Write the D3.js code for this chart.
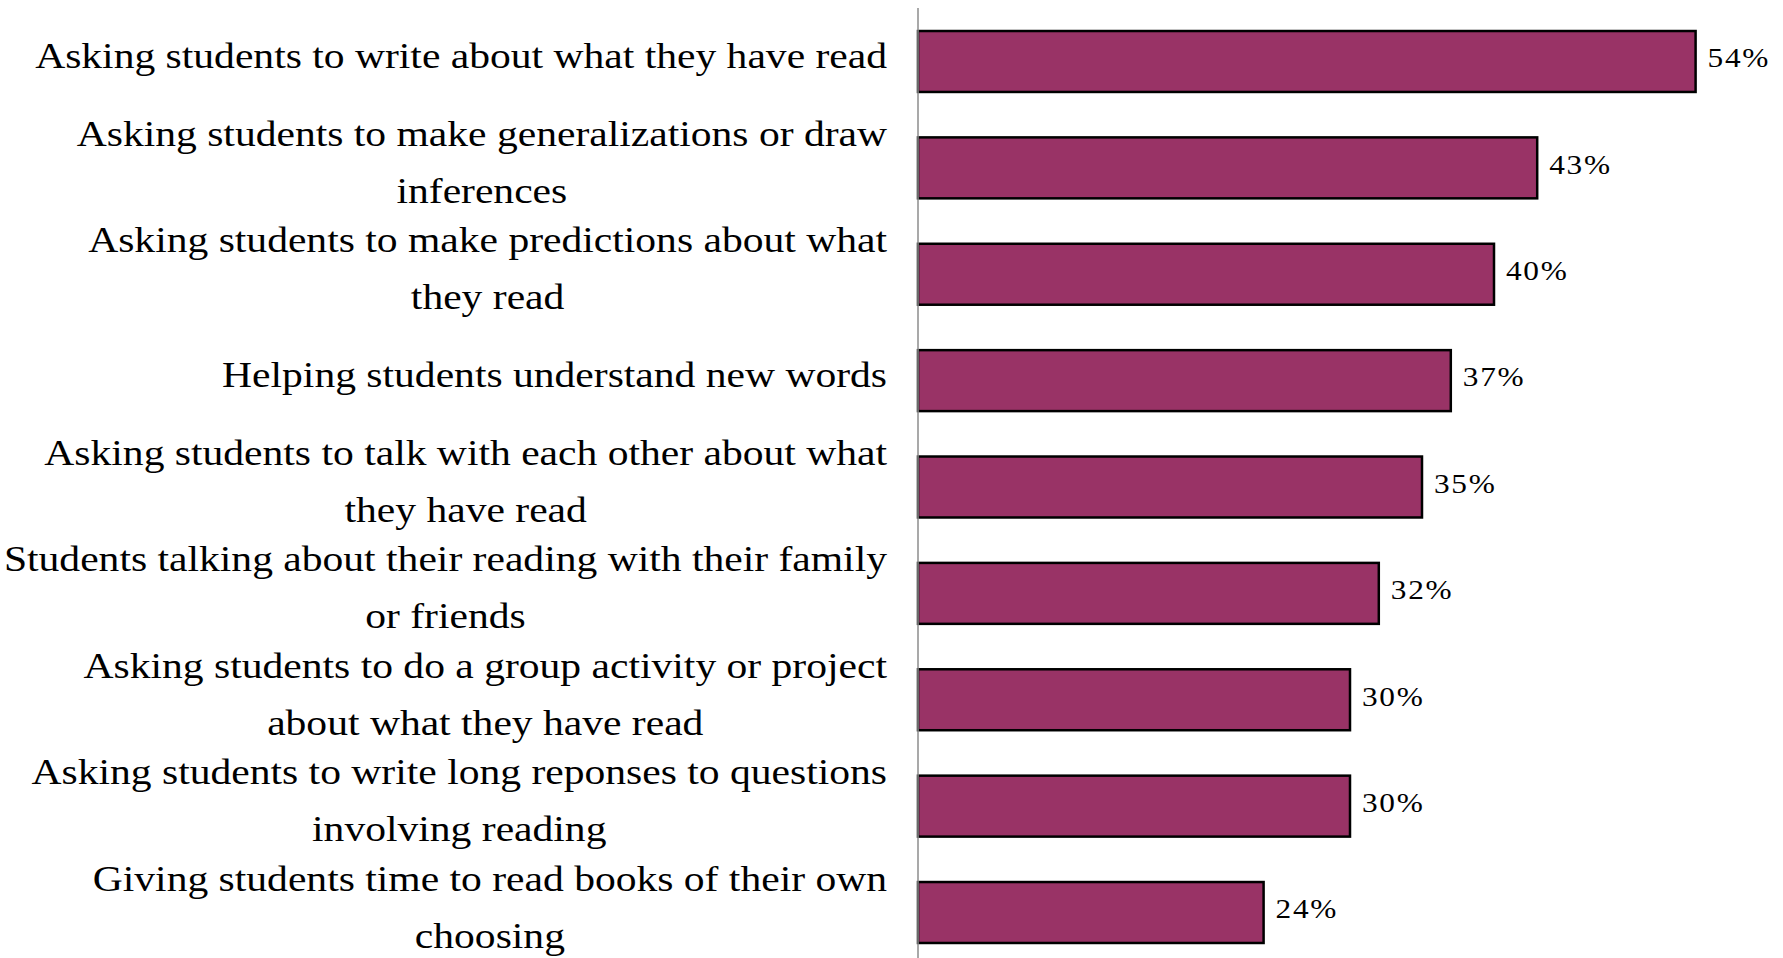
<!DOCTYPE html>
<html>
<head>
<meta charset="utf-8">
<script src="https://cdn.jsdelivr.net/npm/d3@7"></script>
<style>
  html, body { margin: 0; padding: 0; background: #fff; }
  svg { display: block; }
</style>
</head>
<body>
<svg id="chart" width="1783" height="958"></svg>
<script>
// Category labels; "|" marks where a label wraps onto a second line
const categories = [
  "Asking students to write about what they have read",
  "Asking students to make generalizations or draw|inferences",
  "Asking students to make predictions about what|they read",
  "Helping students understand new words",
  "Asking students to talk with each other about what|they have read",
  "Students talking about their reading with their family|or friends",
  "Asking students to do a group activity or project|about what they have read",
  "Asking students to write long reponses to questions|involving reading",
  "Giving students time to read books of their own|choosing"
];
// Share of respondents (%)
const values = [54, 43, 40, 37, 35, 32, 30, 30, 24];

const svg = d3.select("#chart");
const axisX = 918;
const serif = "'Liberation Serif', 'DejaVu Serif', serif";

const x = d3.scaleLinear().domain([0, 60]).range([axisX, axisX + 864]);
const y = d3.scaleBand()
  .domain(categories)
  .range([8.3, 965.7])
  .paddingInner(0.427)
  .paddingOuter(0.2135);

const data = categories.map((c, i) => ({ cat: c, value: values[i] }));

// Bars
svg.append("g").selectAll("rect")
  .data(data)
  .join("rect")
  .attr("x", x(0))
  .attr("y", d => y(d.cat))
  .attr("width", d => x(d.value) - x(0))
  .attr("height", y.bandwidth())
  .attr("fill", "#993366")
  .attr("stroke", "#000")
  .attr("stroke-width", 2.5);

// Vertical category axis line
svg.append("line")
  .attr("x1", axisX).attr("x2", axisX)
  .attr("y1", 8).attr("y2", 958)
  .attr("stroke", "#8c8c8c")
  .attr("stroke-width", 1.5);

// Value labels (slightly widened type)
svg.append("g").selectAll("text")
  .data(data)
  .join("text")
  .attr("transform", d =>
    `translate(${x(d.value) + 12},${y(d.cat) + y.bandwidth() / 2 - 4}) scale(1.12,1)`)
  .attr("dy", "0.35em")
  .attr("font-family", serif)
  .attr("font-size", 28)
  .attr("letter-spacing", 1.5)
  .attr("fill", "#000")
  .text(d => d.value + "%");

// Category labels: block right-aligned to the axis, lines centred within the block
const labelRight = 887;
const lineGap = 57;
const stretch = 1.155;
const labels = svg.append("g")
  .attr("transform", `translate(${labelRight},0) scale(${stretch},1) translate(${-labelRight},0)`)
  .attr("font-family", serif)
  .attr("font-size", 36)
  .attr("fill", "#000");

data.forEach(d => {
  const lines = d.cat.split("|");
  const cy = y(d.cat) + y.bandwidth() / 2 - 5;
  const g = labels.append("g");
  const texts = lines.map((ln, j) => g.append("text")
    .attr("text-anchor", "middle")
    .attr("y", cy + (j - (lines.length - 1) / 2) * lineGap)
    .attr("dy", "0.32em")
    .text(ln));
  const blockW = d3.max(texts, t => t.node().getComputedTextLength());
  texts.forEach(t => t.attr("x", labelRight - blockW / 2));
});
</script>
</body>
</html>
